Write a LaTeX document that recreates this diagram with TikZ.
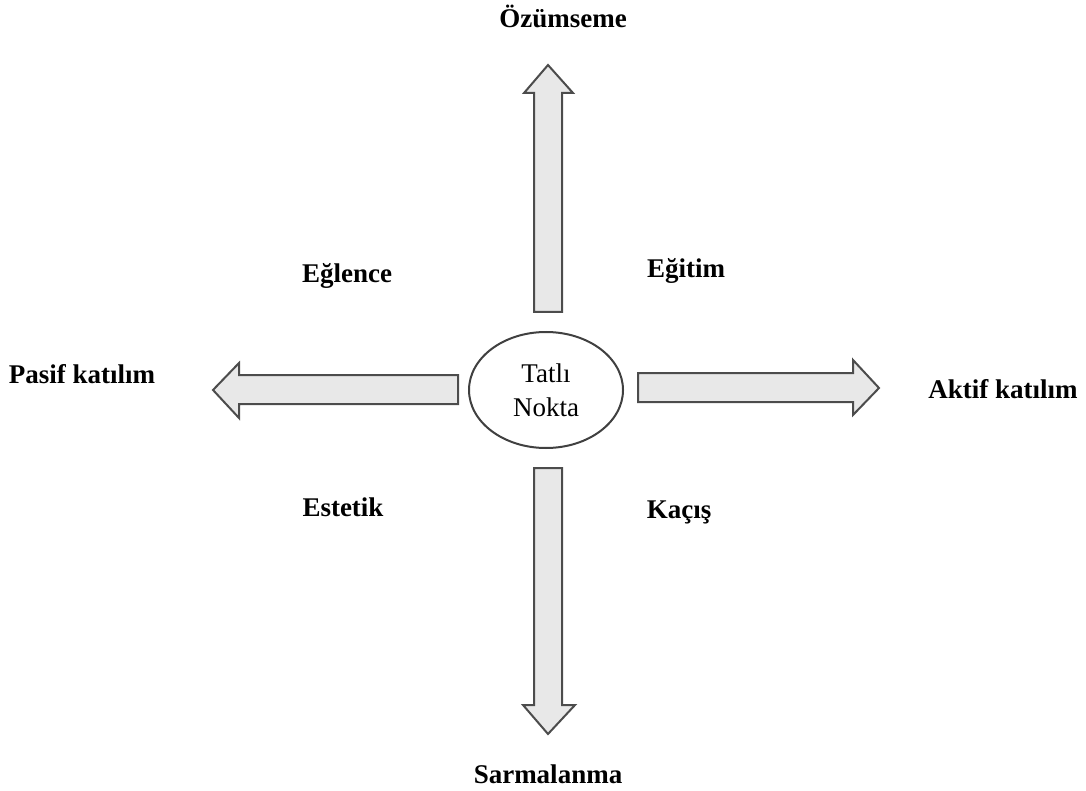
\documentclass[tikz,border=0pt]{standalone}
\usepackage{fontspec}
\setmainfont{Liberation Serif}
\usetikzlibrary{shapes.geometric}
\begin{document}
\begin{tikzpicture}[x=1pt,y=-1pt,
  blockarrow/.style={draw=black!70, fill=black!9, line width=2pt, line join=miter},
  axislabel/.style={font=\bfseries\fontsize{27}{32}\selectfont, anchor=base, inner sep=0pt},
  centre/.style={draw=black!75, line width=2pt, ellipse, minimum width=154pt, minimum height=116pt, inner sep=0pt, align=center, font=\fontsize{27}{34}\selectfont}
]
\useasboundingbox (0,0) rectangle (1086,791);

% centre
\node[centre] (tn) at (546,390) {Tatlı\\Nokta};

% four block arrows
\draw[blockarrow] (534,312) -- (534,93) -- (524,93) -- (548,65) -- (573,93) -- (562,93) -- (562,312) -- cycle;
\draw[blockarrow] (534,468) -- (534,705) -- (523,705) -- (548,734) -- (575,705) -- (562,705) -- (562,468) -- cycle;
\draw[blockarrow] (458,375) -- (239,375) -- (239,363) -- (213,390) -- (239,418) -- (239,404) -- (458,404) -- cycle;
\draw[blockarrow] (638,373) -- (853,373) -- (853,360) -- (879,388) -- (853,415) -- (853,402) -- (638,402) -- cycle;

% axis ends
\node[axislabel] (top) at (563,28) {Özümseme};
\node[axislabel] (bottom) at (548,783) {Sarmalanma};
\node[axislabel] (left) at (82,383) {Pasif katılım};
\node[axislabel] (right) at (1003,398) {Aktif katılım};

% quadrants
\node[axislabel] (q1) at (347,283) {Eğlence};
\node[axislabel] (q2) at (686,278) {Eğitim};
\node[axislabel] (q3) at (343,516) {Estetik};
\node[axislabel] (q4) at (679,518) {Kaçış};
\end{tikzpicture}
\end{document}
